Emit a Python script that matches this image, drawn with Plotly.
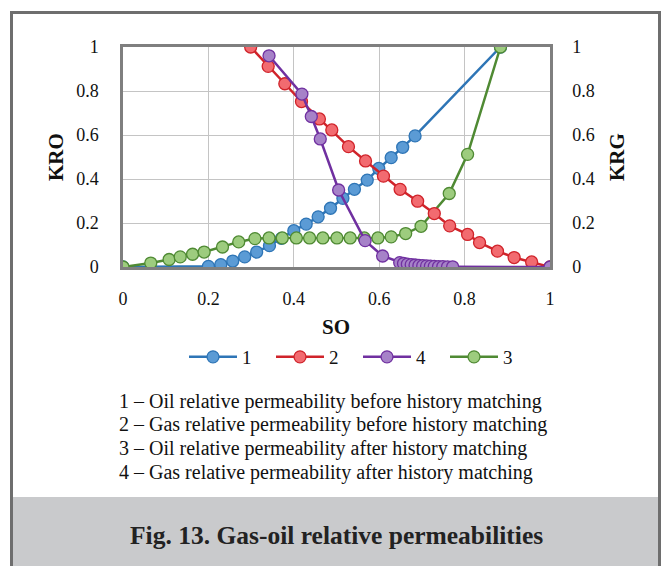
import plotly.graph_objects as go

# ---- data ----
so_1 = [0, 0.2, 0.229, 0.257, 0.285, 0.313, 0.343, 0.371, 0.400, 0.429, 0.457, 0.486, 0.515, 0.542, 0.572, 0.599, 0.628, 0.655, 0.684, 0.884]
kr_1 = [0, 0.003, 0.011, 0.027, 0.046, 0.068, 0.097, 0.130, 0.165, 0.195, 0.228, 0.267, 0.312, 0.353, 0.395, 0.448, 0.497, 0.544, 0.596, 1.0]

so_2 = [0.299, 0.340, 0.379, 0.418, 0.460, 0.489, 0.528, 0.568, 0.610, 0.649, 0.690, 0.729, 0.765, 0.807, 0.835, 0.877, 0.916, 0.957, 1.0]
kr_2 = [1.0, 0.912, 0.833, 0.752, 0.673, 0.623, 0.547, 0.482, 0.413, 0.353, 0.299, 0.243, 0.187, 0.148, 0.111, 0.072, 0.043, 0.023, 0.0]

so_4 = [0.342, 0.419, 0.441, 0.462, 0.505, 0.567, 0.608, 0.648, 0.657, 0.666, 0.675, 0.684, 0.693, 0.702, 0.711, 0.720, 0.729, 0.739, 0.749, 0.760, 0.772, 1.0]
kr_4 = [0.96, 0.786, 0.684, 0.582, 0.350, 0.120, 0.050, 0.020, 0.016, 0.013, 0.011, 0.009, 0.007, 0.006, 0.005, 0.004, 0.003, 0.002, 0.002, 0.001, 0.001, 0.0]

so_3 = [0, 0.065, 0.108, 0.134, 0.163, 0.190, 0.233, 0.271, 0.309, 0.342, 0.373, 0.406, 0.437, 0.468, 0.501, 0.532, 0.565, 0.597, 0.628, 0.662, 0.698, 0.764, 0.807, 0.884]
kr_3 = [0, 0.018, 0.034, 0.046, 0.058, 0.068, 0.091, 0.114, 0.129, 0.132, 0.132, 0.132, 0.132, 0.132, 0.132, 0.132, 0.132, 0.132, 0.137, 0.152, 0.185, 0.334, 0.512, 1.0]

tick_vals = [0, 0.2, 0.4, 0.6, 0.8, 1]
tick_text = ["0", "0.2", "0.4", "0.6", "0.8", "1"]

notes = [
    "1 – Oil relative permeability before history matching",
    "2 – Gas relative permeability before history matching",
    "3 – Oil relative permeability after history matching",
    "4 – Gas relative permeability after history matching",
]
caption = "Fig. 13. Gas-oil relative permeabilities"

FONT = "Liberation Serif"
W, H = 668, 566
ML, MR, MT, MB = 123, 118, 47, 299


def pxx(x):
    return (x - ML) / (W - ML - MR)


def pyy(y):
    return (H - MB - y) / (H - MT - MB)


fig = go.Figure()

series = [
    ("1", so_1, kr_1, "#2e75b6", "#5b9bd5", "y", 1),
    ("2", so_2, kr_2, "#d0232a", "#f26b70", "y2", 2),
    ("4", so_4, kr_4, "#7030a0", "#a682c8", "y2", 3),
    ("3", so_3, kr_3, "#4f8a33", "#9dcc7e", "y", 4),
]
for name, xs, ys, lc, fc, ya, rank in series:
    fig.add_trace(go.Scatter(
        x=xs, y=ys, name=name, mode="lines+markers", yaxis=ya,
        line=dict(color=lc, width=2.5),
        marker=dict(symbol="circle", size=12, color=fc, line=dict(color=lc, width=1.3)),
        legendrank=rank,
    ))


def axis(**kw):
    d = dict(
        range=[0, 1], tickvals=tick_vals, ticktext=tick_text,
        showgrid=True, gridcolor="#c4c4c4", gridwidth=1.2,
        showline=True, linecolor="#7f7f7f", linewidth=2.5,
        zeroline=False, ticks="",
        tickfont=dict(family=FONT, size=18, color="#111", weight="normal"),
    )
    d.update(kw)
    return d


fig.update_layout(
    width=W, height=H,
    font=dict(family=FONT, color="#111"),
    margin=dict(l=ML, r=MR, t=MT, b=MB),
    paper_bgcolor="white", plot_bgcolor="white",
    xaxis=axis(mirror=True, ticklabelstandoff=14),
    yaxis=axis(mirror=True, ticklabelstandoff=18),
    yaxis2=axis(overlaying="y", side="right", ticklabelstandoff=16),
    showlegend=True,
    legend=dict(
        orientation="h", x=pxx(358), xanchor="center", y=pyy(357), yanchor="middle",
        font=dict(family=FONT, size=19, color="#111"),
        entrywidth=24, entrywidthmode="pixels", itemwidth=48,
        traceorder="normal",
    ),
)
fig.update_xaxes(tickfont_family=FONT)
fig.update_yaxes(tickfont_family=FONT)

ann = []
ann.append(dict(text="<b>KRO</b>", x=pxx(56), y=pyy(157), textangle=-90,
                font=dict(family=FONT, size=21, color="#111")))
ann.append(dict(text="<b>KRG</b>", x=pxx(617), y=pyy(157), textangle=-90,
                font=dict(family=FONT, size=21, color="#111")))
ann.append(dict(text="<b>SO</b>", x=pxx(336), y=pyy(327),
                font=dict(family=FONT, size=21, color="#111")))
for i, t in enumerate(notes):
    ann.append(dict(text=t, x=pxx(117), y=pyy(401 + i * 23.7), xanchor="left",
                    font=dict(family=FONT, size=20, color="#111")))
ann.append(dict(text="<b>" + caption + "</b>", x=pxx(336), y=pyy(535),
                font=dict(family=FONT, size=25.5, color="#222")))
for a in ann:
    a.setdefault("xanchor", "center")
    a.update(xref="paper", yref="paper", yanchor="middle", showarrow=False)
fig.update_layout(annotations=ann)

fig.update_layout(shapes=[
    dict(type="rect", xref="paper", yref="paper", layer="below",
         x0=pxx(12), x1=pxx(659), y0=pyy(570), y1=pyy(497),
         fillcolor="#c9cacc", line=dict(width=0)),
    dict(type="rect", xref="paper", yref="paper", layer="above",
         x0=pxx(11.5), x1=pxx(659.5), y0=pyy(572), y1=pyy(12.5),
         fillcolor="rgba(0,0,0,0)", line=dict(color="#6e6e6e", width=3)),
])

fig.write_html("out.html")
